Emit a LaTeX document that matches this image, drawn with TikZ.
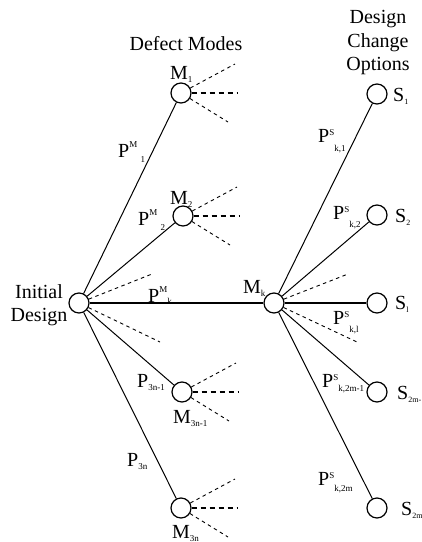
\documentclass[tikz,border=0pt]{standalone}
\usepackage{fontspec}
\setmainfont{Liberation Serif}
\newcommand\sps[2][9]{\raisebox{#1pt}{\fontsize{9}{9}\selectfont #2}}
\newcommand\sbs[2][4]{\raisebox{-#1pt}{\fontsize{9}{9}\selectfont #2}}
\newcommand\ssbs[2][3]{\raisebox{-#1pt}{\fontsize{8}{8}\selectfont #2}}
\begin{document}
\begin{tikzpicture}[x=1pt,y=-1pt,
  state/.style={circle,draw,line width=1.2pt,minimum size=20pt,inner sep=0pt,fill=white},
  lbl/.style={inner sep=0pt,anchor=base west,font=\fontsize{20}{23.5}\selectfont},
  title/.style={inner sep=0pt,anchor=north,align=center,font=\fontsize{20}{23.5}\selectfont},
  edge/.style={line width=1pt},
  mainedge/.style={line width=1.6pt},
  fan/.style={line width=0.9pt,dash pattern=on 3.5pt off 3.5pt},
  hfan/.style={line width=1.5pt,dash pattern=on 5pt off 4pt}]
\useasboundingbox (0,0) rectangle (422,542);

% titles
\node[title] (tdm) at (186,36) {Defect Modes};
\node[title] (tdco) at (378,10.5) {Design\\Change\\Options};
\node[title] (tinit) at (39,284.3) {Initial\\Design};

% circle nodes
\node[state] (init) at (79,303) {};
\node[state] (m1) at (181,93) {};
\node[state] (m2) at (183,216) {};
\node[state] (mk) at (274,303) {};
\node[state] (m3) at (182,392) {};
\node[state] (m4) at (181,508) {};
\node[state] (s1) at (377,94) {};
\node[state] (s2) at (377,215) {};
\node[state] (sl) at (377,303) {};
\node[state] (s3) at (377,392) {};
\node[state] (s4) at (377,508) {};

% fan end coordinates
\coordinate (iu) at (152,274);
\coordinate (id) at (160,342);
\coordinate (ku) at (348,274);
\coordinate (kd) at (357,342);
\foreach \n/\x/\y in {m1/181/93,m2/183/216,m3/182/392,m4/181/508}{
  \coordinate (\n u) at (\x+54,\y-29);
  \coordinate (\n h) at (\x+56,\y);
  \coordinate (\n d) at (\x+47,\y+29);
}

% solid connectors
\draw[edge] (init) -- (m1);
\draw[edge] (init) -- (m2);
\draw[mainedge] (init) -- (mk);
\draw[edge] (init) -- (m3);
\draw[edge] (init) -- (m4);
\draw[edge] (mk) -- (s1);
\draw[edge] (mk) -- (s2);
\draw[mainedge] (mk) -- (sl);
\draw[edge] (mk) -- (s3);
\draw[edge] (mk) -- (s4);

% dashed fans
\draw[fan] (init) -- (iu);
\draw[fan] (init) -- (id);
\draw[fan] (mk) -- (ku);
\draw[fan] (mk) -- (kd);
\foreach \n in {m1,m2,m3,m4}{
  \draw[fan] (\n) -- (\n u);
  \draw[hfan] (\n) -- (\n h);
  \draw[fan] (\n) -- (\n d);
}

% labels
\node[lbl] (lm1) at (170,79) {M\sbs[3]{1}};
\node[lbl] (lp1) at (118,157) {P\sps[10]{M}\,\sbs[5]{1}};
\node[lbl] (lm2) at (170,204) {M\sbs[3]{2}};
\node[lbl] (lp2) at (138,225) {P\sps[10]{M}\,\sbs[5]{2}};
\node[lbl] (lpk) at (148,302) {P\sps[10]{M}\sbs[2]{k}};
\node[lbl] (lmk) at (243,293) {M\sbs[3]{k}};
\node[lbl] (lp3) at (137,387) {P\sbs[3]{3n-1}};
\node[lbl] (lm3) at (173,423) {M\sbs[3]{3n-1}};
\node[lbl] (lp4) at (127,466) {P\sbs[3]{3n}};
\node[lbl] (lm4) at (172,538) {M\sbs[3]{3n}};
\node[lbl] (ls1) at (393,101) {S\ssbs{1}};
\node[lbl] (lq1) at (318,142) {P\sps[7]{S}\sbs[9]{k,1}};
\node[lbl] (ls2) at (395,222) {S\ssbs{2}};
\node[lbl] (lq2) at (333,219) {P\sps[7]{S}\sbs[8]{k,2}};
\node[lbl] (lsl) at (395,309) {S\ssbs{l}};
\node[lbl] (lql) at (333,324) {P\sps[7]{S}\sbs[8]{k,l}};
\node[lbl] (ls3) at (397,399) {S\ssbs{2m-}};
\node[lbl] (lq3) at (322,387) {P\sps[7]{S}\sbs[4]{k,2m-1}};
\node[lbl] (ls4) at (401,515) {S\ssbs{2m}};
\node[lbl] (lq4) at (318,485) {P\sps[7]{S}\sbs[6]{k,2m}};
\end{tikzpicture}
\end{document}
